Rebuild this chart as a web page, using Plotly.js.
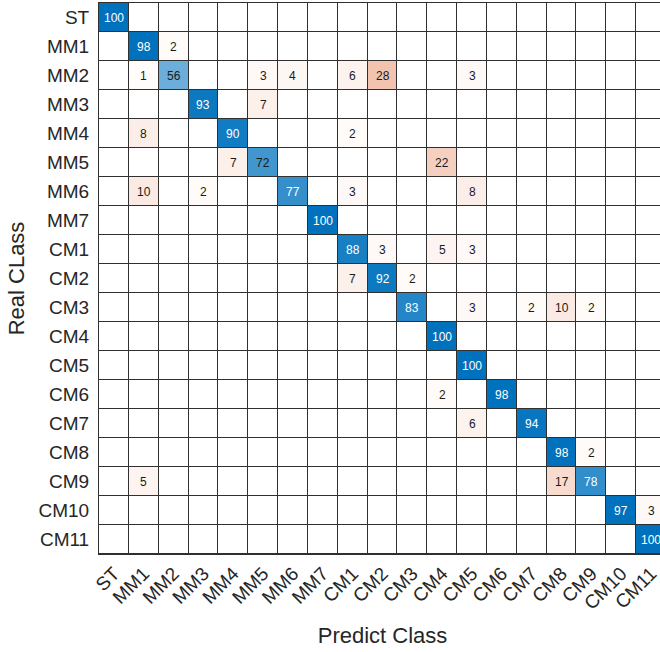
<!DOCTYPE html>
<html>
<head>
<meta charset="utf-8">
<script src="https://cdn.plot.ly/plotly-3.0.1.min.js"></script>
<style>
  html, body { margin: 0; padding: 0; background: #fff; overflow: hidden; }
  #chart { width: 670px; height: 652px; }
</style>
</head>
<body>
<div id="chart"></div>
<script>
// Class labels (rows = real class, columns = predicted class)
const classes = ["ST","MM1","MM2","MM3","MM4","MM5","MM6","MM7",
                 "CM1","CM2","CM3","CM4","CM5","CM6","CM7","CM8","CM9","CM10","CM11"];

// Confusion matrix values (percent), row by row
const rowST   = [100,0,0,0,0,0,0,0, 0,0,0,0,0,0,0,0,0,0,0];
const rowMM1  = [0,98,2,0,0,0,0,0, 0,0,0,0,0,0,0,0,0,0,0];
const rowMM2  = [0,1,56,0,0,3,4,0, 6,28,0,0,3,0,0,0,0,0,0];
const rowMM3  = [0,0,0,93,0,7,0,0, 0,0,0,0,0,0,0,0,0,0,0];
const rowMM4  = [0,8,0,0,90,0,0,0, 2,0,0,0,0,0,0,0,0,0,0];
const rowMM5  = [0,0,0,0,7,72,0,0, 0,0,0,22,0,0,0,0,0,0,0];
const rowMM6  = [0,10,0,2,0,0,77,0, 3,0,0,0,8,0,0,0,0,0,0];
const rowMM7  = [0,0,0,0,0,0,0,100, 0,0,0,0,0,0,0,0,0,0,0];
const rowCM1  = [0,0,0,0,0,0,0,0, 88,3,0,5,3,0,0,0,0,0,0];
const rowCM2  = [0,0,0,0,0,0,0,0, 7,92,2,0,0,0,0,0,0,0,0];
const rowCM3  = [0,0,0,0,0,0,0,0, 0,0,83,0,3,0,2,10,2,0,0];
const rowCM4  = [0,0,0,0,0,0,0,0, 0,0,0,100,0,0,0,0,0,0,0];
const rowCM5  = [0,0,0,0,0,0,0,0, 0,0,0,0,100,0,0,0,0,0,0];
const rowCM6  = [0,0,0,0,0,0,0,0, 0,0,0,2,0,98,0,0,0,0,0];
const rowCM7  = [0,0,0,0,0,0,0,0, 0,0,0,0,6,0,94,0,0,0,0];
const rowCM8  = [0,0,0,0,0,0,0,0, 0,0,0,0,0,0,0,98,2,0,0];
const rowCM9  = [0,5,0,0,0,0,0,0, 0,0,0,0,0,0,0,17,78,0,0];
const rowCM10 = [0,0,0,0,0,0,0,0, 0,0,0,0,0,0,0,0,0,97,3];
const rowCM11 = [0,0,0,0,0,0,0,0, 0,0,0,0,0,0,0,0,0,0,100];

const matrix = [rowST,rowMM1,rowMM2,rowMM3,rowMM4,rowMM5,rowMM6,rowMM7,
                rowCM1,rowCM2,rowCM3,rowCM4,rowCM5,rowCM6,rowCM7,rowCM8,rowCM9,rowCM10,rowCM11];

const idx = classes.map((_, i) => i);
const base = matrix.map(r => r.map(() => 0));
const diagZ = matrix.map((r, i) => r.map((v, j) => (i === j && v > 0) ? v : null));
const offZ  = matrix.map((r, i) => r.map((v, j) => (i !== j && v > 0) ? v : null));

const FONT = '"Liberation Sans", Arial, Helvetica, sans-serif';
const TXT = '#262626';

const common = { x: idx, y: idx, xgap: 1, ygap: 1, showscale: false, hoverinfo: 'skip', type: 'heatmap' };

const traces = [
  Object.assign({}, common, { z: base, colorscale: [[0,'#ffffff'],[1,'#ffffff']], zmin: 0, zmax: 1 }),
  Object.assign({}, common, { z: diagZ, colorscale: [[0,'#ffffff'],[1,'rgb(0,114,189)']], zmin: 0, zmax: 97 }),
  Object.assign({}, common, { z: offZ, colorscale: [[0,'#ffffff'],[1,'rgb(217,83,25)']], zmin: 0, zmax: 81 })
];

const annotations = [];
matrix.forEach((r, i) => r.forEach((v, j) => {
  if (v > 0) {
    annotations.push({
      x: j, y: i, xref: 'x', yref: 'y', text: String(v), showarrow: false,
      font: { family: FONT, size: 12, color: (i === j && v >= 75) ? '#ffffff' : '#1a1a1a' }
    });
  }
}));

const layout = {
  width: 670, height: 652,
  margin: { l: 99, r: 4, t: 3, b: 98 },
  paper_bgcolor: '#ffffff',
  plot_bgcolor: '#303030',
  font: { family: FONT, color: TXT },
  xaxis: {
    range: [-0.5, 18.5], tickvals: idx, ticktext: classes, tickangle: -45,
    tickfont: { family: FONT, size: 19, color: TXT },
    showgrid: false, zeroline: false, ticks: '', fixedrange: true,
    showline: true, mirror: true, linecolor: '#303030', linewidth: 1,
    title: { text: 'Predict Class', font: { family: FONT, size: 22, color: TXT }, standoff: 14 },
    automargin: false
  },
  yaxis: {
    range: [18.5, -0.5], tickvals: idx, ticktext: classes,
    tickfont: { family: FONT, size: 19, color: TXT },
    showgrid: false, zeroline: false, ticks: '', fixedrange: true, ticklabelstandoff: 5,
    showline: true, mirror: true, linecolor: '#303030', linewidth: 1,
    title: { text: 'Real CLass', font: { family: FONT, size: 22, color: TXT }, standoff: 7 },
    automargin: false
  },
  annotations: annotations,
  showlegend: false
};

Plotly.newPlot('chart', traces, layout, { displayModeBar: false, staticPlot: true });
</script>
</body>
</html>
